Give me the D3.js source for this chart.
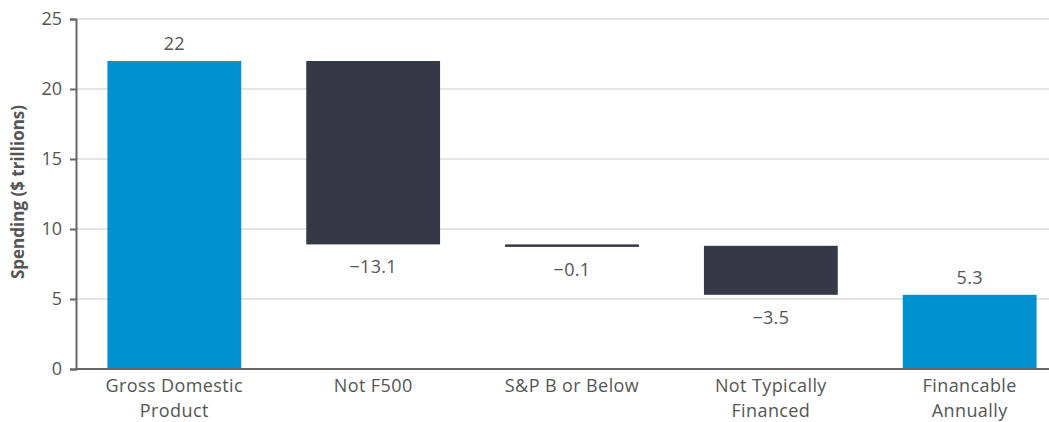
<!DOCTYPE html>
<html lang="en">
<head>
<meta charset="utf-8">
<title>Spending waterfall</title>
<script src="https://cdn.jsdelivr.net/npm/d3@7"></script>
<style>
  body { margin: 0; background: #fff; }
  text { font-family: "Open Sans", Roboto, sans-serif; }
</style>
</head>
<body>
<script>
const categories = [["Gross Domestic", "Product"], ["Not F500"], ["S&P B or Below"], ["Not Typically", "Financed"], ["Financable", "Annually"]]
const values = [22, -13.1, -0.1, -3.5, 5.3]
const isTotal = [true, false, false, false, true]
const yTicks = [0, 5, 10, 15, 20, 25]

const w = 1049, h = 422
const svg = d3.select("body").append("svg").attr("width", w).attr("height", h)

// running totals for the waterfall
let run = 0
const bars = values.map((v, i) => {
  let lo, hi
  if (isTotal[i]) { lo = 0; hi = v; run = v }
  else { hi = run; lo = run + v; run = lo }
  return {i, v, lo, hi, total: isTotal[i]}
})

const x = d3.scaleBand().domain(d3.range(values.length)).range([75, 1069]).paddingInner(0.327).paddingOuter(0.163)
const y = d3.scaleLinear().domain([0, 25]).range([369, 19])

// grid
svg.append("g").selectAll("line").data(yTicks.filter(d => d > 0)).enter().append("line")
  .attr("x1", 77).attr("x2", w).attr("y1", d => y(d)).attr("y2", d => y(d))
  .attr("stroke", "#dcdcdc").attr("stroke-width", 1.5)

svg.selectAll("rect.bar").data(bars).enter().append("rect")
  .attr("class", "bar")
  .attr("x", d => x(d.i))
  .attr("width", x.bandwidth())
  .attr("y", d => y(d.hi))
  .attr("height", d => Math.max(2.5, y(d.lo) - y(d.hi)))
  .attr("fill", d => d.total ? "#0091d0" : "#363845")

// value labels
svg.selectAll("text.val").data(bars).enter().append("text")
  .attr("class", "val")
  .attr("x", d => x(d.i) + x.bandwidth() / 2)
  .attr("y", d => d.total ? y(d.hi) - 11 : Math.max(y(d.lo), y(d.hi) + 2.5) + 29)
  .attr("text-anchor", "middle")
  .attr("font-size", "18px").attr("letter-spacing", "0.3px").attr("fill", "#555")
  .text(d => d.v < 0 ? "\u2212" + Math.abs(d.v) : d.v)

// y axis
const yAxis = svg.append("g").attr("transform", "translate(76,0)")
  .call(d3.axisLeft(y).tickValues(yTicks).tickSize(6).tickPadding(8))
yAxis.select(".domain").attr("stroke", "#666").attr("stroke-width", 2)
yAxis.selectAll(".tick line").attr("stroke", "#666").attr("stroke-width", 2)
yAxis.selectAll(".tick text").attr("font-size", "18px").attr("fill", "#555")
  .attr("font-family", "'Open Sans', sans-serif")

// x axis baseline
svg.append("line").attr("x1", 75).attr("x2", w).attr("y1", y(0)).attr("y2", y(0))
  .attr("stroke", "#666").attr("stroke-width", 2)

// x labels
const xl = svg.selectAll("text.cat").data(categories).enter().append("text")
  .attr("class", "cat")
  .attr("text-anchor", "middle")
  .attr("font-size", "18px").attr("letter-spacing", "0.4px").attr("fill", "#555")
xl.selectAll("tspan").data((d, i) => d.map(s => ({s, i}))).enter().append("tspan")
  .attr("x", d => x(d.i) + x.bandwidth() / 2)
  .attr("y", (d, j) => 392 + j * 25)
  .text(d => d.s)

svg.append("text")
  .attr("transform", "translate(24," + (y(12.5) - 2) + ") rotate(-90)")
  .attr("text-anchor", "middle")
  .attr("font-family", "'DejaVu Sans', sans-serif")
  .attr("font-size", "17px").attr("font-weight", "bold").attr("fill", "#555")
  .text("Spending ($ trillions)")
</script>
</body>
</html>
